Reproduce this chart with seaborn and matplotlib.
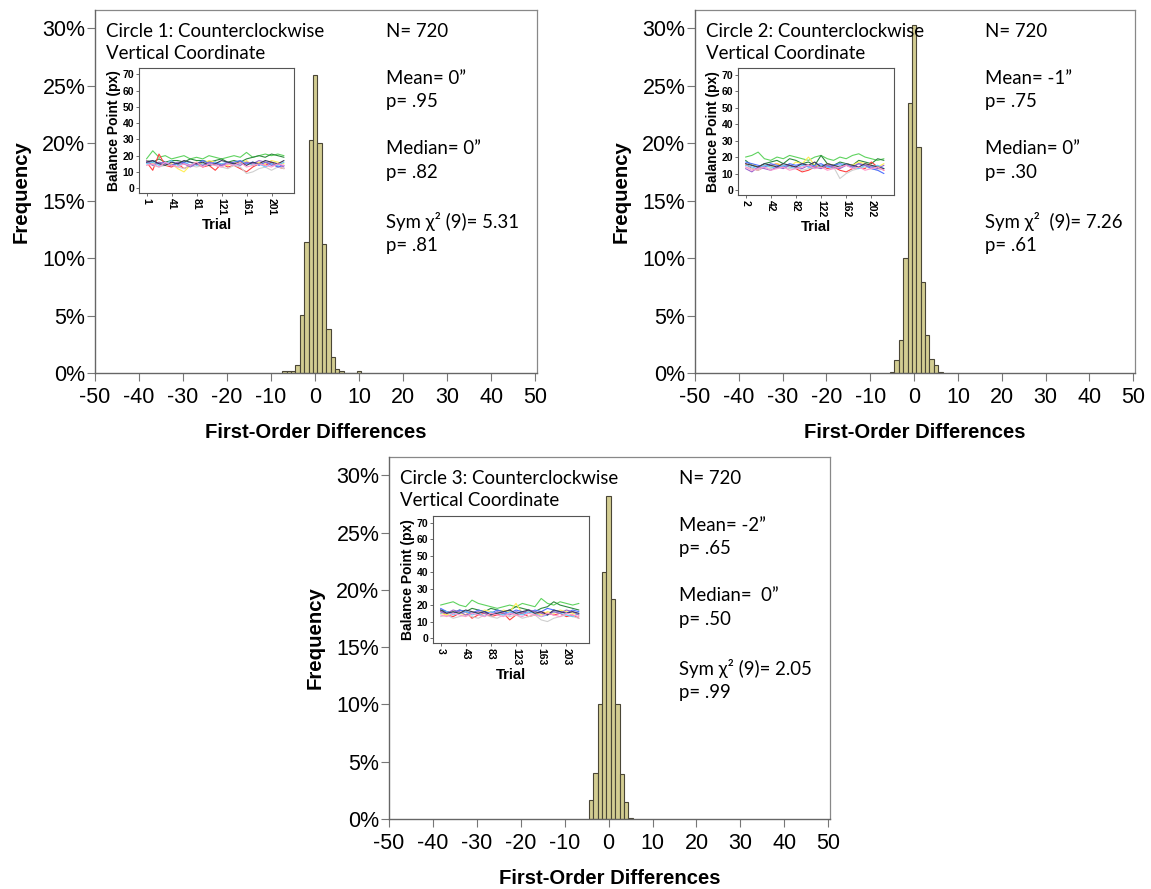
import numpy as np
import pandas as pd
import matplotlib
matplotlib.use("Agg")
import matplotlib.pyplot as plt
import seaborn as sns

sns.set_style("white")
plt.rcParams["font.family"] = ["Liberation Sans", "DejaVu Sans"]
plt.rcParams["text.color"] = "black"
plt.rcParams["axes.labelcolor"] = "black"
plt.rcParams["xtick.color"] = "black"
plt.rcParams["ytick.color"] = "black"

# ---------------- histogram data (bin centers, percent of N=720) ----------------
c1_centers = [-7, -6, -5, -4, -3, -2, -1, 0, 1, 2, 3, 4, 5, 6, 10]
c1_pcts = [0.14, 0.14, 0.14, 0.73, 5.06, 11.4, 20.3, 25.96, 20.0, 11.2, 3.8, 1.42, 0.32, 0.14, 0.14]

c2_centers = [-5, -4, -3, -2, -1, 0, 1, 2, 3, 4, 5, 6]
c2_pcts = [0.12, 1.1, 2.9, 10.0, 23.5, 30.3, 19.65, 7.9, 3.3, 1.25, 0.67, 0.12]

c3_centers = [-4, -3, -2, -1, 0, 1, 2, 3, 4, 5]
c3_pcts = [1.7, 4.0, 10.06, 21.6, 28.2, 19.2, 10.06, 3.97, 1.5, 0.1]

titles = ["Circle 1: Counterclockwise\nVertical Coordinate",
          "Circle 2: Counterclockwise\nVertical Coordinate",
          "Circle 3: Counterclockwise\nVertical Coordinate"]
stats = ["N= 720\n\nMean= 0\u201d\np= .95\n\nMedian= 0\u201d\np= .82\n\nSym \u03c7\u00b2 (9)= 5.31\np= .81",
         "N= 720\n\nMean= -1\u201d\np= .75\n\nMedian= 0\u201d\np= .30\n\nSym \u03c7\u00b2  (9)= 7.26\np= .61",
         "N= 720\n\nMean= -2\u201d\np= .65\n\nMedian=  0\u201d\np= .50\n\nSym \u03c7\u00b2 (9)= 2.05\np= .99"]
x_ticks = [-50, -40, -30, -20, -10, 0, 10, 20, 30, 40, 50]
y_ticks = [0, 5, 10, 15, 20, 25, 30]

# ---------------- inset data (balance point per trial, sampled every 10 trials) ----------------
inset_starts = [1, 2, 3]
inset_xticks = [[1, 41, 81, 121, 161, 201], [2, 42, 82, 122, 162, 202], [3, 43, 83, 123, 163, 203]]
line_names = ["lgreen", "dgreen", "red", "gray", "yellow", "blue", "cyan", "purple", "navy", "pink"]
line_colors = ["#5fd35f", "#2f8a3f", "#ff4040", "#cfcfcf", "#ffee55", "#4d6fff",
               "#66c8ff", "#9a66cc", "#3a3a5a", "#ff99cc"]

ins1 = {
    "lgreen": [18,23,19,20,18,19,20,18,19,18,20,19,18,19,20,19,22,19,20,21,20,21,20],
    "dgreen": [17,16,18,16,17,17,16,18,17,17,16,17,18,16,17,16,18,19,20,19,21,20,19],
    "red":    [16,11,21,14,13,15,12,14,15,13,14,11,15,13,14,12,10,13,15,14,16,13,12],
    "gray":   [15,14,13,14,15,13,12,14,13,14,15,14,13,12,14,13,9,10,12,13,11,13,12],
    "yellow": [17,15,16,14,15,12,10,14,16,15,17,16,15,14,16,15,17,14,16,15,17,16,15],
    "blue":   [16,17,15,16,14,15,16,14,15,17,15,16,14,15,16,17,15,16,14,16,15,13,14],
    "cyan":   [15,16,14,15,17,14,15,16,14,15,14,16,15,16,14,15,16,14,15,13,15,14,16],
    "purple": [17,14,16,15,14,16,15,13,15,14,16,15,14,16,15,14,16,15,17,16,14,15,13],
    "navy":   [16,17,15,14,16,15,17,16,15,16,14,15,17,16,15,16,14,16,15,17,16,15,17],
    "pink":   [14,15,13,16,14,13,15,14,16,13,15,14,13,15,14,16,13,14,15,14,13,15,14],
}
ins2 = {
    "lgreen": [20,21,23,19,18,20,19,21,20,19,18,20,21,19,18,20,19,21,22,20,19,18,19],
    "dgreen": [18,15,14,16,17,18,16,19,18,16,17,15,21,16,15,17,16,15,18,17,16,19,18],
    "red":    [16,13,12,14,15,16,14,15,13,11,12,14,15,13,14,12,11,13,14,13,17,14,12],
    "gray":   [14,13,12,14,13,15,14,13,14,12,13,14,13,15,14,7,10,12,13,14,13,12,13],
    "yellow": [15,16,14,15,14,16,15,14,17,16,20,15,14,16,15,14,16,15,17,16,15,14,16],
    "blue":   [17,16,15,14,16,15,14,16,15,16,14,15,16,14,15,16,15,14,16,15,13,12,10],
    "cyan":   [15,14,13,15,14,13,15,14,13,15,14,13,15,14,13,15,16,14,13,15,14,15,13],
    "purple": [13,11,14,13,12,14,13,15,14,13,15,14,13,15,14,13,15,14,16,15,14,13,15],
    "navy":   [16,15,14,16,15,14,16,15,14,16,15,17,14,16,15,14,16,15,14,16,15,14,13],
    "pink":   [14,12,13,14,12,13,14,12,13,14,15,13,14,12,13,14,15,13,14,12,13,14,12],
}
ins3 = {
    "lgreen": [20,21,22,20,19,23,21,20,19,18,19,20,19,21,20,19,24,21,20,22,21,20,21],
    "dgreen": [17,16,15,17,16,18,17,16,18,17,16,17,19,18,17,16,18,19,22,20,19,18,17],
    "red":    [16,14,13,15,16,12,14,15,13,14,15,11,14,15,13,14,16,15,14,15,13,14,12],
    "gray":   [13,14,12,13,14,13,12,14,13,12,14,13,14,12,13,14,11,10,12,13,14,13,12],
    "yellow": [15,14,16,15,14,16,15,17,16,15,17,16,21,15,16,15,14,16,15,17,16,15,14],
    "blue":   [18,16,15,17,16,15,17,16,15,17,16,15,17,16,15,17,16,18,17,16,15,17,16],
    "cyan":   [15,16,14,15,16,14,15,13,16,15,14,16,15,14,16,15,13,14,16,15,14,13,15],
    "purple": [16,15,17,16,14,15,16,15,14,16,15,14,16,15,17,16,15,14,16,15,17,16,14],
    "navy":   [17,15,16,15,17,16,15,16,14,15,16,17,15,16,17,15,16,14,17,16,15,16,15],
    "pink":   [14,13,15,14,13,15,14,13,15,14,13,15,14,13,15,14,13,15,14,13,15,14,13],
}
insets = [ins1, ins2, ins3]

# ---------------- layout ----------------
W, H = 1151, 889
fig = plt.figure(figsize=(W / 100, H / 100), dpi=100)

def fr(left, top, right, bottom):
    return [left / W, 1 - bottom / H, (right - left) / W, (bottom - top) / H]

main_rects = [fr(95, 10, 537, 373), fr(695, 10, 1135, 373), fr(389, 457, 830, 819)]
inset_rects = [fr(139, 68, 294, 193), fr(738, 68, 894, 195), fr(433, 516, 589, 643)]

hist_data = [(c1_centers, c1_pcts), (c2_centers, c2_pcts), (c3_centers, c3_pcts)]
fill = "#d3cd92"
edge = "#4a4636"
text_fam = ["Lato", "DejaVu Sans"]

for i in range(3):
    ax = fig.add_axes(main_rects[i])
    cen, pct = hist_data[i]
    hdf = pd.DataFrame({"diff": cen, "pct": pct})
    sns.histplot(data=hdf, x="diff", weights="pct", discrete=True, color=fill,
                 edgecolor=edge, linewidth=0.8, alpha=1.0, ax=ax)
    ax.set_xlim(-50, 50.4)
    ax.set_ylim(0, 31.6)
    ax.set_xticks(x_ticks)
    ax.set_xticklabels([str(t) for t in x_ticks])
    ax.set_yticks(y_ticks)
    ax.set_yticklabels([f"{t}%" for t in y_ticks])
    ax.tick_params(axis="both", which="major", direction="out", length=6, width=0.8,
                   color="#777777", labelsize=15.5, bottom=True, left=True)
    ax.tick_params(axis="x", pad=4)
    ax.tick_params(axis="y", pad=1)
    for s in ["left", "bottom"]:
        ax.spines[s].set_color("#666666")
        ax.spines[s].set_linewidth(1.0)
        ax.spines[s].set_zorder(5)
    for s in ["top", "right"]:
        ax.spines[s].set_color("#888888")
        ax.spines[s].set_linewidth(0.9)
    ax.set_xlabel("First-Order Differences", fontsize=14.6, fontweight="bold", labelpad=11)
    ax.set_ylabel("Frequency", fontsize=14.7, fontweight="bold", labelpad=8)
    ax.text(0.025, 0.965, titles[i], transform=ax.transAxes, ha="left", va="top",
            fontsize=13.4, family=text_fam, linespacing=1.36)
    ax.text(0.658, 0.965, stats[i], transform=ax.transAxes, ha="left", va="top",
            fontsize=13.4, family=text_fam, linespacing=1.466)

    # inset
    iax = fig.add_axes(inset_rects[i])
    d = insets[i]
    start = inset_starts[i]
    rows = []
    for nm in line_names:
        vals = d[nm]
        for k, v in enumerate(vals):
            rows.append({"trial": start + 10 * k, "value": v, "series": nm})
    df = pd.DataFrame(rows)
    sns.lineplot(data=df, x="trial", y="value", hue="series", hue_order=line_names,
                 palette=dict(zip(line_names, line_colors)), legend=False,
                 linewidth=0.8, ax=iax, errorbar=None)
    iax.set_xlim(start - 12, start + 236)
    iax.set_ylim(-3, 74)
    iax.set_xticks(inset_xticks[i])
    iax.set_xticklabels([str(t) for t in inset_xticks[i]], rotation=270)
    iax.set_yticks([0, 10, 20, 30, 40, 50, 60, 70])
    iax.tick_params(axis="both", direction="out", length=2.5, width=0.6, color="#555555",
                    labelsize=7.5, pad=1, bottom=True, left=True)
    for lab in iax.get_xticklabels() + iax.get_yticklabels():
        lab.set_fontweight("bold")
    for s in iax.spines.values():
        s.set_color("#555555")
        s.set_linewidth(0.8)
    iax.set_xlabel("Trial", fontsize=10.7, fontweight="bold", labelpad=2)
    iax.set_ylabel("Balance Point (px)", fontsize=10, fontweight="bold", labelpad=1)

fig.savefig("out.png", dpi=100)
